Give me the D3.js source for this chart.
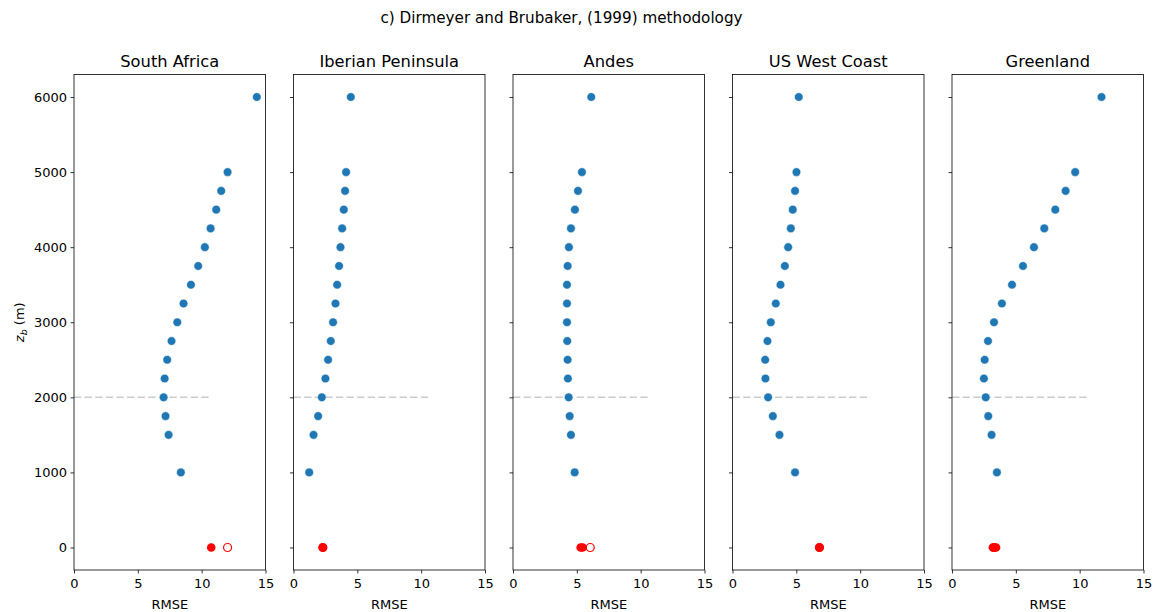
<!DOCTYPE html>
<html><head><meta charset="utf-8">
<script src="https://cdn.jsdelivr.net/npm/d3@7"></script>
<style>body{margin:0;background:#fff;} text{font-family:"DejaVu Sans",sans-serif;}</style>
</head><body>
<svg id="chart" width="1158" height="612"></svg>
<script>
const regions = ["South Africa","Iberian Peninsula","Andes","US West Coast","Greenland"];
const levels = [1000,1500,1750,2000,2250,2500,2750,3000,3250,3500,3750,4000,4250,4500,4750,5000,6000];
const rmseSouthAfrica = [8.37,7.41,7.17,7.02,7.10,7.30,7.64,8.09,8.58,9.16,9.73,10.25,10.70,11.14,11.53,12.03,14.32];
const rmseIberian     = [1.23,1.57,1.93,2.22,2.50,2.71,2.92,3.10,3.29,3.42,3.57,3.68,3.81,3.94,4.04,4.12,4.49];
const rmseAndes       = [4.83,4.54,4.44,4.36,4.30,4.28,4.25,4.23,4.23,4.23,4.28,4.38,4.54,4.85,5.09,5.40,6.13];
const rmseUSWest      = [4.90,3.68,3.16,2.79,2.58,2.56,2.74,3.00,3.39,3.76,4.10,4.36,4.57,4.72,4.90,5.01,5.19];
const rmseGreenland   = [3.52,3.10,2.84,2.64,2.50,2.56,2.82,3.29,3.91,4.70,5.56,6.42,7.23,8.09,8.90,9.65,11.71];
const seriesValues = [rmseSouthAfrica, rmseIberian, rmseAndes, rmseUSWest, rmseGreenland];
// red markers at z=0: filled values and open values
const redFilled = [[10.75],[2.30],[5.30,5.45],[6.81],[3.20,3.45]];
const redOpen   = [[12.03],[2.30],[6.05],[6.81],[3.30]];
const xTicks = [0,5,10,15];
const yTicks = [0,1000,2000,3000,4000,5000,6000];
const refLevel = 2000, refLineEnd = 10.8;

const svg = d3.select("#chart");
const lefts = [74,293.5,513,732.5,952];
const W = 191.5, axTop = 74.5, axBottom = 570;
const y = d3.scaleLinear().domain([-300,6300]).range([axBottom, axTop]);

svg.append("text").attr("x",561.5).attr("y",23).attr("text-anchor","middle")
  .attr("font-size",15.2).text("c) Dirmeyer and Brubaker, (1999) methodology");

regions.forEach((name,i)=>{
  const L = lefts[i];
  const x = d3.scaleLinear().domain([0,15]).range([L, L+W]);
  const g = svg.append("g");
  g.append("line").attr("x1",x(0)).attr("x2",x(refLineEnd)).attr("y1",y(refLevel)).attr("y2",y(refLevel))
    .attr("stroke","#cccccc").attr("stroke-width",1.5).attr("stroke-dasharray","7.4,3.2");
  g.selectAll("circle.b").data(levels.map((lv,k)=>({z:lv,v:seriesValues[i][k]}))).enter()
    .append("circle").attr("cx",d=>x(d.v)).attr("cy",d=>y(d.z)).attr("r",4.3)
    .attr("fill","#1f77b4").attr("stroke","#ffffff").attr("stroke-width",0.5);
  g.selectAll("circle.o").data(redOpen[i]).enter().append("circle")
    .attr("cx",d=>x(d)).attr("cy",y(0)).attr("r",4)
    .attr("fill","#ffffff").attr("stroke","#ff0000").attr("stroke-width",1.2);
  g.selectAll("circle.f").data(redFilled[i]).enter().append("circle")
    .attr("cx",d=>x(d)).attr("cy",y(0)).attr("r",4.3).attr("fill","#ff0000");
  const ax = d3.axisBottom(x).tickValues(xTicks).tickSize(3.5).tickPadding(5).tickFormat(d3.format("d"));
  const xa = g.append("g").attr("transform",`translate(0,${axBottom})`).call(ax);
  const ay = d3.axisLeft(y).tickValues(yTicks).tickSize(3.5).tickPadding(3.5)
    .tickFormat(i===0 ? d3.format("d") : ()=>"");
  const ya = g.append("g").attr("transform",`translate(${L},0)`).call(ay);
  [xa,ya].forEach(a=>{
    a.select(".domain").remove();
    a.selectAll("text").attr("font-size",13).attr("fill","#000").attr("font-family","DejaVu Sans");
    a.selectAll("line").attr("stroke","#000").attr("stroke-width",0.8);
  });
  g.append("rect").attr("x",L).attr("y",axTop).attr("width",W).attr("height",axBottom-axTop)
    .attr("fill","none").attr("stroke","#000").attr("stroke-width",0.8);
  g.append("text").attr("x",L+W/2).attr("y",axTop-8).attr("text-anchor","middle")
    .attr("font-size",16.3).text(name);
  g.append("text").attr("x",L+W/2).attr("y",609).attr("text-anchor","middle")
    .attr("font-size",13).text("RMSE");
});

const yl = svg.append("text").attr("transform",`translate(24,${(axTop+axBottom)/2}) rotate(-90)`)
  .attr("text-anchor","middle").attr("font-size",13);
yl.append("tspan").attr("font-style","italic").text("z");
yl.append("tspan").attr("font-size",9.5).attr("font-style","italic").attr("dy",3).text("b");
yl.append("tspan").attr("dy",-3).text(" (m)");
</script>
</body></html>
